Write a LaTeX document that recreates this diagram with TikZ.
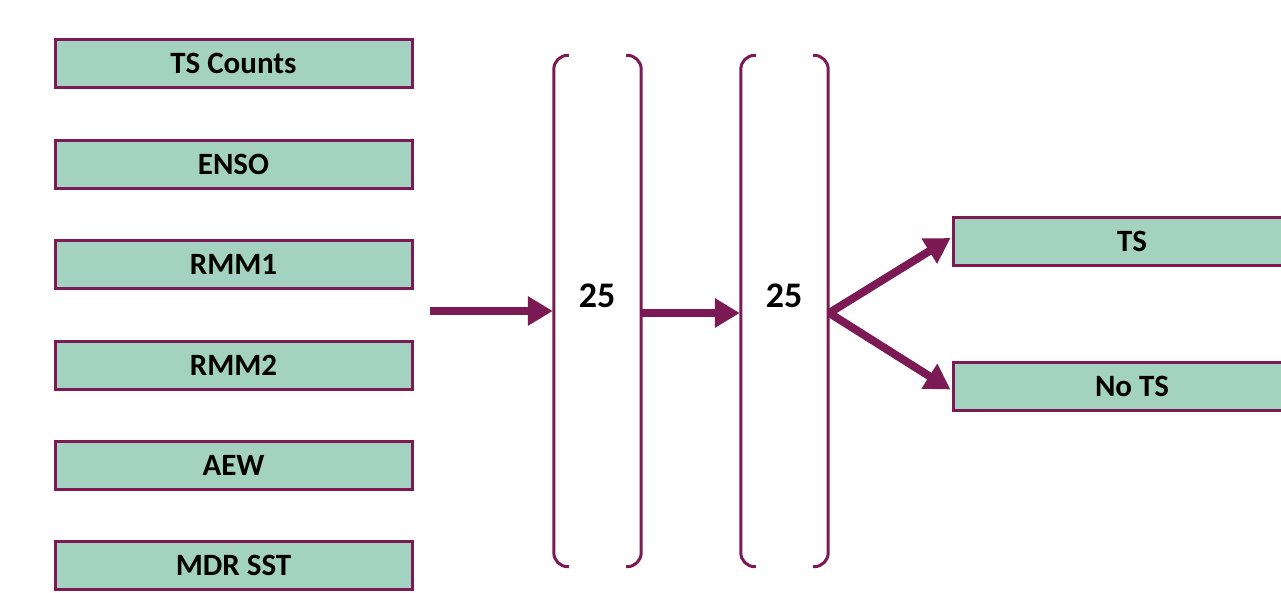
\documentclass[tikz,border=0pt]{standalone}
\usepackage{fontspec}
\setmainfont{Carlito}
\usetikzlibrary{arrows.meta}
\definecolor{boxfill}{HTML}{A3D2C0}
\definecolor{plum}{HTML}{7B1A55}
\tikzset{
  inbox/.style={draw=plum, line width=3pt, fill=boxfill, minimum width=357pt, minimum height=48pt, inner sep=0pt, font=\bfseries\fontsize{31}{31}\selectfont},
  outbox/.style={inbox},
  layer/.style={minimum width=87pt, minimum height=511pt, inner sep=0pt},
  numlbl/.style={font=\bfseries\fontsize{36}{36}\selectfont},
  brk/.style={draw=plum, line width=3pt, rounded corners=14pt},
  flow/.style={draw=plum, line width=8pt, -{Triangle[length=25pt,width=28pt]}},
}
\begin{document}
\begin{tikzpicture}[x=1pt,y=-1pt]
\useasboundingbox (0,0) rectangle (1281,592);
\clip (0,0) rectangle (1281,592);
\node[inbox] (ts) at (233.5,63) {TS Counts};
\node[inbox] (enso) at (233.5,164) {ENSO};
\node[inbox] (rmm1) at (233.5,264) {RMM1};
\node[inbox] (rmm2) at (233.5,365.5) {RMM2};
\node[inbox] (aew) at (233.5,465) {AEW};
\node[inbox] (mdr) at (233.5,565.5) {MDR SST};
\node[layer] (l1) at (597.5,311) {};
\node[layer] (l2) at (784.5,311) {};
\node[numlbl] (n1) at (597,296) {25};
\node[numlbl] (n2) at (784,296) {25};
\draw[brk] ([xshift=15pt]l1.north west) -- (l1.north west) -- (l1.south west) -- ([xshift=15pt]l1.south west);
\draw[brk] ([xshift=-15pt]l1.north east) -- (l1.north east) -- (l1.south east) -- ([xshift=-15pt]l1.south east);
\draw[brk] ([xshift=15pt]l2.north west) -- (l2.north west) -- (l2.south west) -- ([xshift=15pt]l2.south west);
\draw[brk] ([xshift=-15pt]l2.north east) -- (l2.north east) -- (l2.south east) -- ([xshift=-15pt]l2.south east);
\node[outbox, minimum width=358pt] (yes) at (1132,241) {TS};
\node[outbox, minimum width=358pt] (no) at (1132,386.5) {No TS};
\coordinate (src) at (430,311);
\coordinate (fork) at ([xshift=1pt,yshift=-2pt]l2.east);
\draw[flow] (src) -- ([xshift=-1pt]l1.west);
\draw[flow] ([yshift=-2pt]l1.east) -- ([xshift=-1pt,yshift=-2pt]l2.west);
\draw[flow] (fork) -- ([xshift=-1pt,yshift=3pt]yes.west);
\draw[flow] (fork) -- ([xshift=-1pt,yshift=-3pt]no.west);
\end{tikzpicture}
\end{document}
